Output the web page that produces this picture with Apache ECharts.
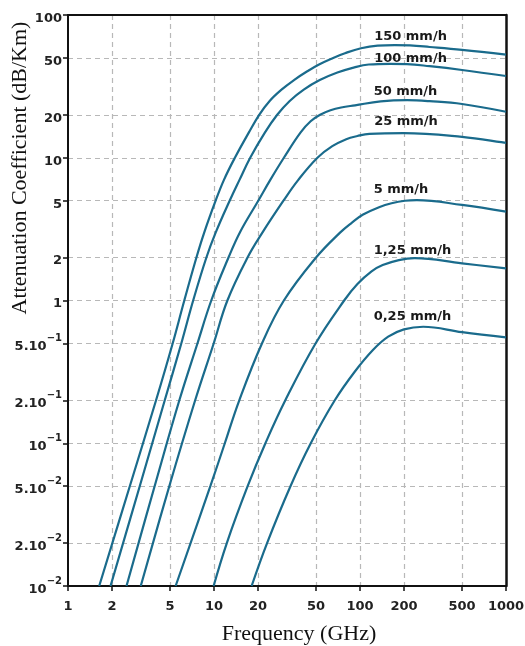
<!DOCTYPE html>
<html>
<head>
<meta charset="utf-8">
<script src="https://cdn.jsdelivr.net/npm/echarts@6/dist/echarts.min.js"></script>
<style>
html,body{margin:0;padding:0;background:#fff;}
#chart{width:525px;height:646px;}
</style>
</head>
<body>
<div id="chart"></div>
<script>
// ---- Data ----
const xTicks = [1, 2, 5, 10, 20, 50, 100, 200, 500, 1000];
const xTickLabels = ['1', '2', '5', '10', '20', '50', '100', '200', '500', '1000'];
const yTicks = [0.01, 0.02, 0.05, 0.1, 0.2, 0.5, 1, 2, 5, 10, 20, 50, 100];
const yTickLabels = ['10^−2', '2.10^−2', '5.10^−2', '10^−1', '2.10^−1', '5.10^−1', '1', '2', '5', '10', '20', '50', '100'];

const seriesNames = ['150 mm/h', '100 mm/h', '50 mm/h', '25 mm/h', '5 mm/h', '1,25 mm/h', '0,25 mm/h'];

// [frequency GHz, attenuation dB/km]
const rain150 = [[1.636,0.01],[2.65,0.05],[4.01,0.2],[5.21,0.5],[6.26,1],[7.58,2],[8.58,3],[10.26,5],[11.7,7],[13.9,10],[17.3,15],[20.4,20],[24.06,25],[29,30],[35.3,35],[43,40],[52.4,45],[65.5,50],[78.9,54],[101.6,58.5],[132,61],[173,61.5],[220,61.2],[300,59.7],[500,57],[1000,52.8]];
const rain100 = [[1.956,0.01],[3.1,0.05],[4.6,0.2],[5.97,0.5],[7.2,1],[8.87,2],[10.28,3],[12.8,5],[14.95,7],[17.7,10],[22.3,15],[27.1,20],[33,25],[41.2,30],[53,35],[70,39.5],[91.6,43],[114.8,45],[160,45.5],[210,45.3],[300,43.8],[500,41.2],[1000,37.4]];
const rain50 = [[2.516,0.01],[3.92,0.05],[5.79,0.2],[7.7,0.5],[9.58,1],[12.57,2],[15.04,3],[20.1,5],[24.3,7],[30.1,10],[39.1,15],[45.9,18],[53.3,20],[62.8,21.5],[74.3,22.5],[92.5,23.3],[138.5,24.8],[210,25.3],[300,24.9],[500,23.8],[1000,21]];
const rain25 = [[3.15,0.01],[4.94,0.05],[7.43,0.2],[9.95,0.5],[12.35,1],[16.97,2],[21.5,3],[29.9,5],[37.8,7],[51.1,10],[64.6,12.05],[80.5,13.5],[96,14.2],[116,14.7],[200,14.9],[500,14],[1000,12.7]];
const rain5 = [[5.46,0.01],[9.44,0.05],[11.86,0.1],[14.9,0.2],[21.3,0.5],[30.1,1],[50,2],[73.3,3],[87.7,3.5],[105,4],[135,4.5],[164.5,4.8],[203,5],[245,5.05],[500,4.67],[1000,4.19]];
const rain1_25 = [[9.94,0.01],[12.24,0.02],[17,0.05],[22.5,0.1],[30.8,0.2],[49.6,0.5],[77.9,1],[95.7,1.3],[120,1.6],[143,1.77],[184.6,1.92],[237,1.98],[500,1.82],[1000,1.68]];
const rain0_25 = [[18.1,0.01],[23.1,0.02],[33.4,0.05],[46,0.1],[67.2,0.2],[92,0.317],[122.6,0.45],[156,0.558],[200,0.628],[271,0.655],[500,0.6],[1000,0.552]];

const seriesData = [rain150, rain100, rain50, rain25, rain5, rain1_25, rain0_25];
// label anchor (frequency, attenuation) for each curve's text (left edge, vertical middle)
const labelFreq = [125, 125, 124, 125, 124, 124, 124];
const labelAtt = [70.5, 49.8, 29, 17.9, 6.0, 2.22, 0.77];

// ---- Chart ----
const curveColor = '#1a6b8c';
const frameColor = '#111';
const gridLine = { show: true, showMinLine: false, showMaxLine: false,
  lineStyle: { color: '#b8b8b8', width: 1.2, type: [5, 4] } };

function findLabel(v, ticks, labels) {
  for (let i = 0; i < ticks.length; i++) {
    if (Math.abs(Math.log10(v) - Math.log10(ticks[i])) < 1e-6) return labels[i];
  }
  return '';
}
function yFmt(v) {
  const t = findLabel(v, yTicks, yTickLabels);
  const p = t.split('^');
  if (p.length === 2) return '{b|' + p[0] + '}{s|' + p[1] + '}';
  return '{b|' + t + '}';
}

const chart = echarts.init(document.getElementById('chart'), null, { renderer: 'canvas' });
chart.setOption({
  animation: false,
  backgroundColor: '#fff',
  grid: { left: 68, right: 19, top: 15, bottom: 60, outerBoundsMode: 'none', containLabel: false },
  xAxis: [{
    type: 'log', logBase: 10, min: 1, max: 1000,
    name: 'Frequency (GHz)', nameLocation: 'middle', nameGap: 37,
    nameTextStyle: { fontFamily: 'Liberation Serif', fontSize: 22, color: '#111', padding: [0, 0, 0, 24] },
    axisLine: { show: true, lineStyle: { color: frameColor, width: 2 } },
    axisTick: { show: true, inside: false, length: 5, customValues: xTicks, lineStyle: { color: frameColor, width: 1.5 } },
    axisLabel: { customValues: xTicks, margin: 14, color: '#222', fontFamily: 'DejaVu Sans', fontWeight: 'bold', fontSize: 13,
      formatter: (v) => findLabel(v, xTicks, xTickLabels) },
    splitLine: gridLine,
    minorTick: { show: false }, minorSplitLine: { show: false }
  }, {
    type: 'value', position: 'top', min: 0, max: 1,
    axisLine: { show: true, onZero: false, lineStyle: { color: frameColor, width: 2 } },
    axisTick: { show: false }, axisLabel: { show: false }, splitLine: { show: false }
  }],
  yAxis: [{
    type: 'log', logBase: 10, min: 0.01, max: 100,
    axisLine: { show: true, lineStyle: { color: frameColor, width: 2 } },
    axisTick: { show: true, inside: false, length: 5, customValues: yTicks, lineStyle: { color: frameColor, width: 1.5 } },
    axisLabel: { customValues: yTicks, margin: 6, formatter: yFmt,
      rich: {
        b: { color: '#222', fontFamily: 'DejaVu Sans', fontWeight: 'bold', fontSize: 13, lineHeight: 20, verticalAlign: 'bottom' },
        s: { color: '#222', fontFamily: 'DejaVu Sans', fontWeight: 'bold', fontSize: 10, lineHeight: 10, verticalAlign: 'top' }
      } },
    splitLine: gridLine
  }, {
    type: 'value', position: 'right', min: 0, max: 1,
    axisLine: { show: true, onZero: false, lineStyle: { color: frameColor, width: 2.5 } },
    axisTick: { show: false }, axisLabel: { show: false }, splitLine: { show: false }
  }],
  graphic: [{
    type: 'text', x: 20, y: 168, rotation: Math.PI / 2,
    style: { text: 'Attenuation Coefficient (dB/Km)', font: '22px "Liberation Serif"', fill: '#111', align: 'center', verticalAlign: 'middle' }
  }],
  series: seriesData.map((d, i) => ({
    name: seriesNames[i],
    type: 'line',
    xAxisIndex: 0, yAxisIndex: 0,
    data: d,
    smooth: 0.4,
    symbol: 'none',
    clip: true,
    lineStyle: { color: curveColor, width: 2.2 },
    markPoint: {
      symbol: 'circle', symbolSize: 0, silent: true, animation: false,
      label: { show: true, position: 'inside', align: 'left', formatter: seriesNames[i],
        color: '#1a1a1a', fontFamily: 'DejaVu Sans', fontSize: 13, fontWeight: 'bold' },
      data: [{ coord: [labelFreq[i], labelAtt[i]] }]
    }
  }))
});
</script>
</body>
</html>
